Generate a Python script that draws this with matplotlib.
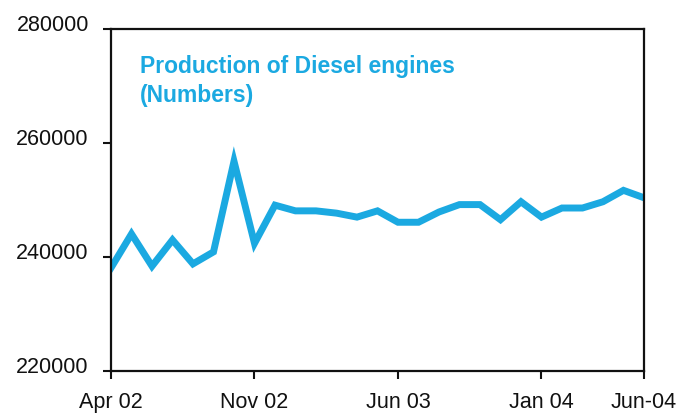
import matplotlib.pyplot as plt
import matplotlib.transforms as mtransforms
import numpy as np

plt.rcParams['font.family'] = ['Liberation Sans', 'DejaVu Sans']

# monthly production, Apr 02 .. Jun 04
production = [238100, 244050, 238400, 243000, 238800, 240900, 256800,
              242400, 249100, 248100, 248100, 247700, 247000, 248100,
              246100, 246100, 247900, 249200, 249200, 246550, 249700,
              247000, 248600, 248600, 249700, 251700, 250400]
tick_pos = [0, 7, 14, 21, 26]
tick_labels = ['Apr 02', 'Nov 02', 'Jun 03', 'Jan 04', 'Jun-04']
y_ticks = [220000, 240000, 260000, 280000]

line_color = '#1BA9E1'

fig = plt.figure(figsize=(6.92, 4.15), dpi=100)
ax = fig.add_axes([0.1604, 0.106, 0.7702, 0.824])

x = np.arange(len(production))
ax.plot(x, production, color=line_color, linewidth=5, solid_joinstyle='miter')

ax.set_xlim(0, 26)
ax.set_ylim(220000, 280000)
ax.set_xticks(tick_pos)
ax.set_xticklabels(tick_labels)
ax.set_yticks(y_ticks)
ax.set_yticklabels([str(v) for v in y_ticks])

for s in ax.spines.values():
    s.set_linewidth(1.6)
    s.set_color('#111111')

ax.tick_params(axis='both', direction='out', length=6, width=1.5,
               labelsize=15.5, colors='#111111')
ax.tick_params(axis='x', pad=9)
ax.tick_params(axis='y', pad=10)

# y labels sit a little above their ticks
shift = mtransforms.ScaledTranslation(0, 0.06, fig.dpi_scale_trans)
for lab in ax.get_yticklabels():
    lab.set_transform(lab.get_transform() + shift)

ax.text(0.054, 0.925, 'Production of Diesel engines\n(Numbers)',
        transform=ax.transAxes, color=line_color, fontsize=16.5,
        fontweight='bold', va='top', ha='left', linespacing=1.35)

plt.savefig('out.png', dpi=100)
